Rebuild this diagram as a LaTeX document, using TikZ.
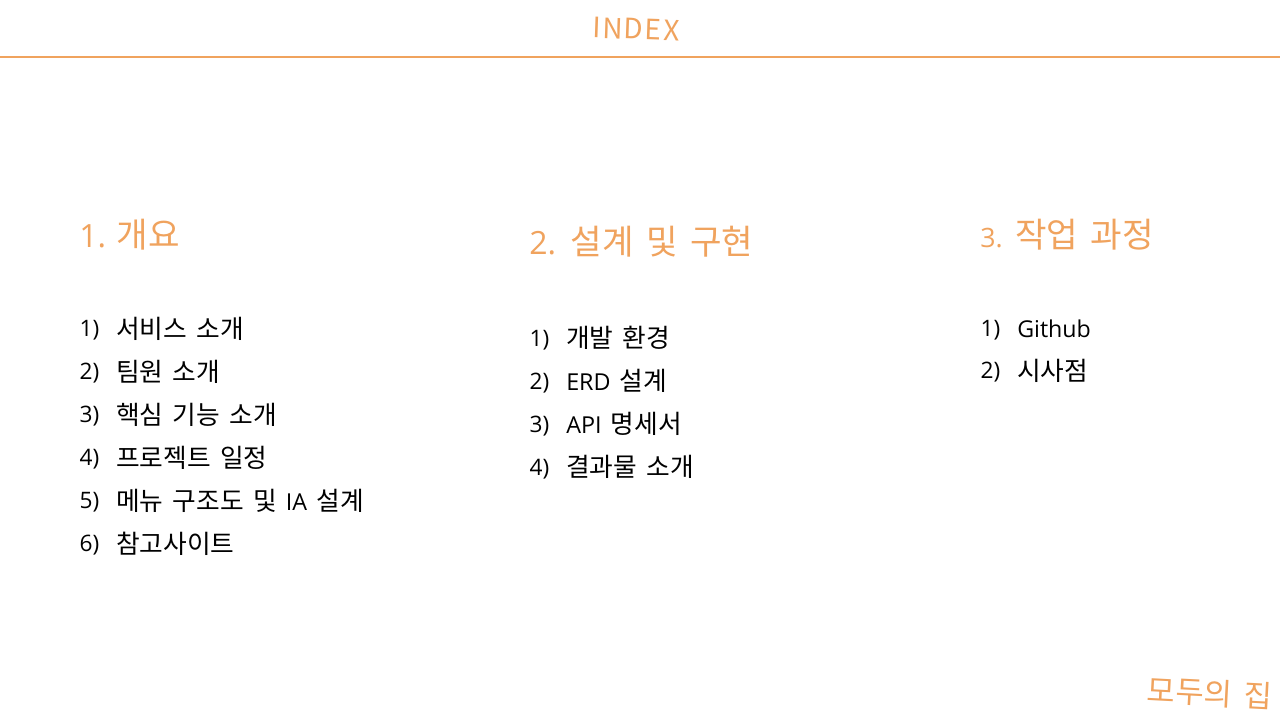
\documentclass[tikz,border=0pt]{standalone}
\usepackage{fontspec}
\setmainfont{Open Sans}
\newfontfamily\cjk[WordSpace=1.6]{Noto Sans CJK KR}
\newfontfamily\lat[WordSpace=1]{Open Sans}
\newfontfamily\handlat[LetterSpace=6]{Noto Sans CJK KR}
\definecolor{accent}{HTML}{F0A35E}
\newcommand{\la}[1]{{\lat #1}}
\tikzset{
 px/.style={x=0.75pt,y=-0.75pt},
 head/.style={anchor=west,inner sep=0pt,text=accent,font=\fontsize{25.7}{30}\selectfont\cjk},
 item/.style={anchor=west,inner sep=0pt,text=black,font=\fontsize{19.3}{22}\selectfont\cjk},
 num/.style={anchor=west,inner sep=0pt,text=black,font=\fontsize{17}{20}\selectfont\lat},
 hand/.style={anchor=center,inner sep=0pt,text=accent},
}
\begin{document}
\begin{tikzpicture}[px]
\useasboundingbox (0,0) rectangle (1280,720);
\fill[white] (0,0) rectangle (1280,720);
\coordinate (ruleL) at (0,57);
\coordinate (ruleR) at (1280,57);
\draw[accent,line width=1.5pt] (ruleL) -- (ruleR);
\node[hand,font=\fontsize{21}{24}\selectfont\handlat,rotate=-2] (title) at (636,29) {INDEX};
\node[hand,font=\fontsize{23}{28}\selectfont\cjk,rotate=-3] (brand) at (1210,693) {모두의\hspace{1pt} 집};
\node[head] (h1) at (79,234.5) {\la{\fontsize{24}{28}\selectfont 1.}\hspace{-3pt} 개요};
\node[head] (h2) at (529,241.5) {\la{\fontsize{24}{28}\selectfont 2.}\hspace{0pt} 설계 및 구현};
\node[head] (h3) at (980,234.5) {\la{\fontsize{20}{24}\selectfont 3.}\hspace{-1.7pt} 작업 과정};
\foreach \y/\n/\t [count=\i] in {328.5/1)/서비스 소개,371.5/2)/팀원 소개,414.5/3)/핵심 기능 소개,457.5/4)/프로젝트 일정,500.5/5)/메뉴 구조도 및 {\la{\fontsize{17.5}{20}\selectfont IA}} 설계,543.5/6)/참고사이트}{
 \node[num] (a\i) at (79.3,\y+1.5) {\n};
 \node[item] (at\i) at (116,\y) {\t};
}
\foreach \y/\n/\t [count=\i] in {338/1)/개발 환경,381/2)/{\la{\fontsize{17.5}{20}\selectfont ERD}} 설계,424/3)/{\la{\fontsize{17.5}{20}\selectfont API}} 명세서,467/4)/결과물 소개}{
 \node[num] (b\i) at (529.3,\y+2) {\n};
 \node[item] (bt\i) at (566,\y) {\t};
}
\node[num] (c1) at (980.3,330) {1)};
\node[item] (ct1) at (1017,329) {\la{\fontsize{17.4}{20}\selectfont Github}};
\node[num] (c2) at (980.3,372) {2)};
\node[item] (ct2) at (1017,370.5) {시사점};
\end{tikzpicture}
\end{document}
